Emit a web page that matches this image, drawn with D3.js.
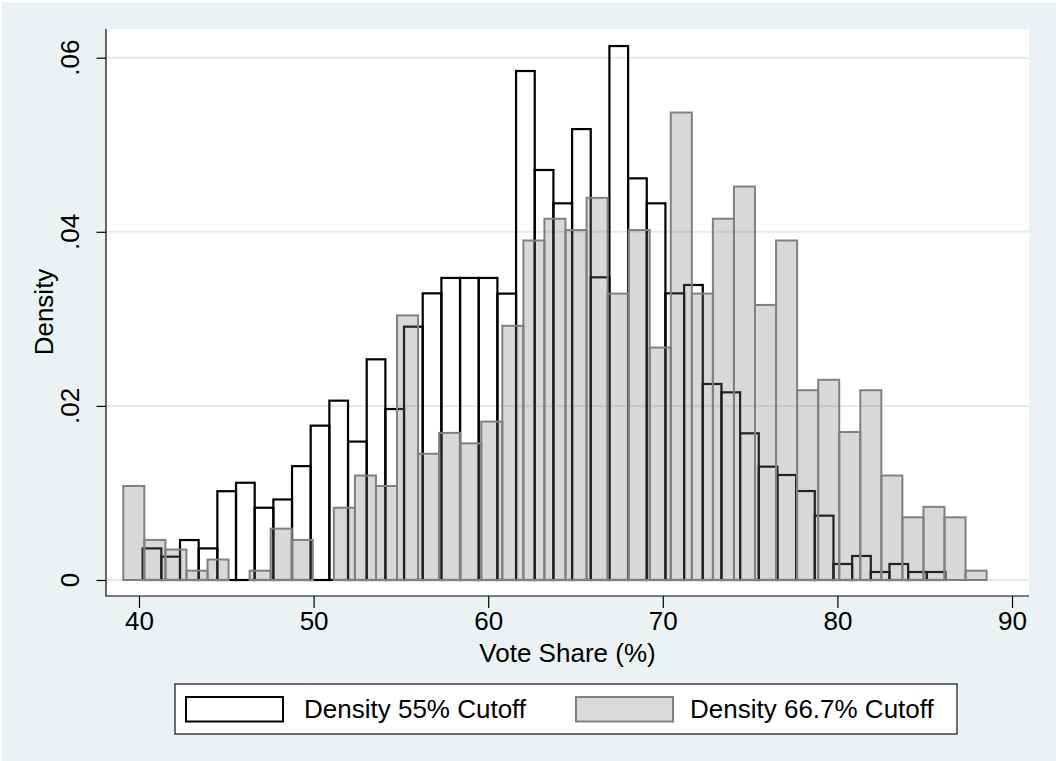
<!DOCTYPE html>
<html>
<head>
<meta charset="utf-8">
<script src="https://cdn.jsdelivr.net/npm/d3@7"></script>
<style>
  html, body { margin: 0; padding: 0; background: #ffffff; }
  svg { display: block; }
  text { font-family: "Liberation Sans", Arial, Helvetica, sans-serif; fill: #000; }
</style>
</head>
<body>
<svg id="chart" width="1056" height="761"></svg>
<script>
// ---- Data ----
const xTicks = [40, 50, 60, 70, 80, 90];
const yTicks = [0, 0.02, 0.04, 0.06];
const yTickLabels = ["0", ".02", ".04", ".06"];

// Density 55% Cutoff histogram (bin start / width in vote-share units)
const binStart55 = 40.21;
const binWidth55 = 1.0693;
const density55 = [0.00363, 0.00268, 0.00459, 0.00363, 0.0102, 0.01117, 0.0083, 0.00925, 0.01308, 0.01773,
  0.0206, 0.0159, 0.02535, 0.01964, 0.0291, 0.03293, 0.0347, 0.0347, 0.0347, 0.0329,
  0.05847, 0.0471, 0.04327, 0.0518, 0.03477, 0.06134, 0.04614, 0.04327, 0.03293, 0.03389,
  0.02252, 0.02156, 0.01685, 0.01302, 0.01206, 0.01022, 0.00739, 0.00184, 0.00276, 0.00092,
  0.00184, 0.00092, 0.00092];

// Density 66.7% Cutoff histogram
const binStart667 = 39.1;
const binWidth667 = 1.206;
const density667 = [0.0108, 0.0046, 0.0035, 0.00107, 0.00235, 0, 0.00107, 0.0059, 0.0046, 0,
  0.0083, 0.012, 0.0108, 0.0304, 0.0145, 0.0169, 0.0157, 0.0182, 0.0292, 0.039,
  0.0415, 0.0402, 0.0439, 0.0329, 0.0402, 0.0267, 0.0537, 0.0329, 0.0415, 0.0452,
  0.0316, 0.039, 0.0218, 0.023, 0.017, 0.0218, 0.012, 0.0072, 0.0084, 0.0072, 0.00107];

const legendLabels = ["Density 55% Cutoff", "Density 66.7% Cutoff"];

// ---- Layout ----
const W = 1056, H = 761;
const plot = { left: 106, right: 1029, top: 29, bottom: 596 };
const fontSize = 26;

const svg = d3.select("#chart");

// Graph background
svg.append("rect").attr("x", 0).attr("y", 0).attr("width", W).attr("height", H).attr("fill", "#ffffff");
svg.append("rect").attr("x", 2).attr("y", 2).attr("width", W - 2).attr("height", H - 2).attr("fill", "#eaf2f3");

// Plot region
svg.append("rect")
  .attr("x", plot.left).attr("y", plot.top)
  .attr("width", plot.right - plot.left).attr("height", plot.bottom - plot.top)
  .attr("fill", "#ffffff");

const x = d3.scaleLinear().domain([40, 90]).range([139, 1012]);
const y = d3.scaleLinear().domain([0, 0.06]).range([580, 57.7]);

// Gridlines
svg.append("g").selectAll("line").data(yTicks).join("line")
  .attr("x1", plot.left + 1).attr("x2", plot.right)
  .attr("y1", d => y(d)).attr("y2", d => y(d))
  .attr("stroke", "#e2ebed").attr("stroke-width", 2);

// 55% bars (outline only)
const bars55 = density55.map((v, i) => ({ x0: binStart55 + i * binWidth55, x1: binStart55 + (i + 1) * binWidth55, v }));
svg.append("g").selectAll("rect").data(bars55).join("rect")
  .attr("x", d => x(d.x0)).attr("width", d => x(d.x1) - x(d.x0))
  .attr("y", d => y(d.v)).attr("height", d => y(0) - y(d.v))
  .attr("fill", "none").attr("stroke", "#000").attr("stroke-width", 2.2);

// 66.7% bars (translucent gray)
const bars667 = density667.map((v, i) => ({ x0: binStart667 + i * binWidth667, x1: binStart667 + (i + 1) * binWidth667, v }))
  .filter(d => d.v > 0);
svg.append("g").selectAll("rect").data(bars667).join("rect")
  .attr("x", d => x(d.x0)).attr("width", d => x(d.x1) - x(d.x0))
  .attr("y", d => y(d.v)).attr("height", d => y(0) - y(d.v))
  .attr("fill", "rgb(119,119,119)").attr("fill-opacity", 0.286)
  .attr("stroke", "#808080").attr("stroke-width", 2);

// Axis lines
svg.append("line").attr("x1", plot.left).attr("x2", plot.left).attr("y1", plot.top).attr("y2", plot.bottom + 0.5)
  .attr("stroke", "#000").attr("stroke-width", 1.2);
svg.append("line").attr("x1", plot.left).attr("x2", plot.right).attr("y1", plot.bottom).attr("y2", plot.bottom)
  .attr("stroke", "#000").attr("stroke-width", 1.2);

// X axis
const xAxis = d3.axisBottom(x).tickValues(xTicks).tickSize(12).tickSizeOuter(0).tickPadding(3.5);
const gx = svg.append("g").attr("transform", `translate(0,${plot.bottom})`).call(xAxis);
gx.select(".domain").remove();
gx.selectAll(".tick line").attr("stroke", "#000").attr("stroke-width", 1.2);
gx.selectAll(".tick text").attr("font-size", fontSize).attr("font-family", "Liberation Sans, Arial, sans-serif").attr("fill", "#000");

// Y axis ticks
const yAxis = d3.axisLeft(y).tickValues(yTicks).tickSize(9.5).tickSizeOuter(0).tickFormat("");
const gy = svg.append("g").attr("transform", `translate(${plot.left},0)`).call(yAxis);
gy.select(".domain").remove();
gy.selectAll(".tick line").attr("stroke", "#000").attr("stroke-width", 1.2);

// Y tick labels (rotated)
svg.append("g").selectAll("text").data(yTicks).join("text")
  .attr("transform", d => `translate(79,${y(d)}) rotate(-90)`)
  .attr("text-anchor", "middle")
  .attr("font-size", fontSize)
  .text((d, i) => yTickLabels[i]);

// Axis titles
svg.append("text").attr("transform", `translate(53,312) rotate(-90)`)
  .attr("text-anchor", "middle").attr("font-size", fontSize).text("Density");
svg.append("text").attr("x", (plot.left + plot.right) / 2).attr("y", 662)
  .attr("text-anchor", "middle").attr("font-size", fontSize).text("Vote Share (%)");

// Legend
const lg = svg.append("g");
lg.append("rect").attr("x", 175).attr("y", 684).attr("width", 782).attr("height", 50)
  .attr("fill", "#ffffff").attr("stroke", "#222").attr("stroke-width", 1.3);
const legendItems = [
  { label: legendLabels[0], sx: 186, tx: 304, fill: "#ffffff", stroke: "#000" },
  { label: legendLabels[1], sx: 576, tx: 690, fill: "#d9d9d9", stroke: "#808080" }
];
legendItems.forEach(it => {
  lg.append("rect").attr("x", it.sx).attr("y", 697).attr("width", 97).attr("height", 24.5)
    .attr("fill", it.fill).attr("stroke", it.stroke).attr("stroke-width", 2);
  lg.append("text").attr("x", it.tx).attr("y", 718).attr("font-size", 26).text(it.label);
});
</script>
</body>
</html>
